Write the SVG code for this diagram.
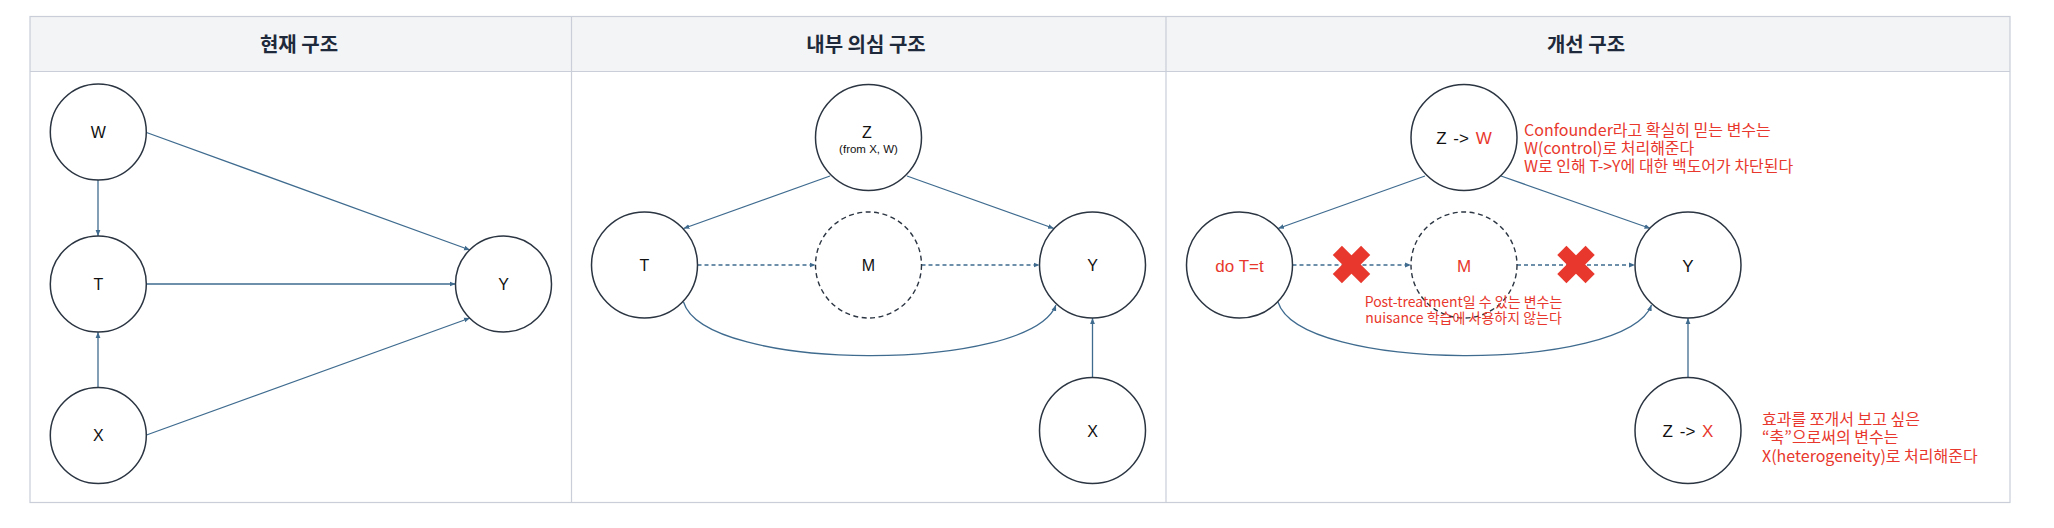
<svg xmlns="http://www.w3.org/2000/svg" width="2054" height="528" viewBox="0 0 2054 528">
  <style>
    .hdr { font-family: "Noto Sans CJK KR", "Noto Sans", sans-serif; font-weight: 700; font-size: 20px; fill: #1e2a3b; text-anchor: middle; }
    .node { fill: #ffffff; stroke: #2b3542; stroke-width: 1.5; }
    .dnode { fill: #ffffff; stroke: #2b3542; stroke-width: 1.4; stroke-dasharray: 5 3.5; }
    .lbl { font-family: "Liberation Sans", Arial, sans-serif; font-size: 16px; fill: #111111; text-anchor: middle; }
    .lbl3 { font-family: "Liberation Sans", Arial, sans-serif; font-size: 17px; fill: #111111; text-anchor: middle; }
    .ws { word-spacing: 2px; }
    .sub { font-family: "Liberation Sans", Arial, sans-serif; font-size: 11.5px; fill: #111111; text-anchor: middle; }
    .red { fill: #e8382d; }
    .note { font-family: "Noto Sans CJK KR", "Noto Sans", sans-serif; font-size: 16px; fill: #e8382d; }
    .note14 { font-family: "Noto Sans CJK KR", "Noto Sans", sans-serif; font-size: 14px; fill: #e8382d; text-anchor: middle; }
    .edge { fill: none; stroke: #3f6b8f; stroke-width: 1.3; marker-end: url(#ah); }
    .dedge { fill: none; stroke: #3f6b8f; stroke-width: 1.3; stroke-dasharray: 4 3; marker-end: url(#ah); }
    .grid { fill: none; stroke: #c9ced8; stroke-width: 1.2; }
  </style>
  <defs>
    <marker id="ah" viewBox="0 0 10 10" refX="10" refY="5" markerWidth="6" markerHeight="6" markerUnits="userSpaceOnUse" orient="auto">
      <path d="M0,1 L10,5 L0,9 z" fill="#3f6b8f"/>
    </marker>
    <g id="xmark">
      <rect x="-20" y="-6.5" width="40" height="13" transform="rotate(45)"/>
      <rect x="-20" y="-6.5" width="40" height="13" transform="rotate(-45)"/>
    </g>
  </defs>

  <rect x="0" y="0" width="2054" height="528" fill="#ffffff"/>

  <g id="table">
    <rect x="30" y="16.5" width="1980" height="55" fill="#f3f4f6"/>
    <rect class="grid" x="30" y="16.5" width="1980" height="486"/>
    <line class="grid" x1="30" y1="71.5" x2="2010" y2="71.5"/>
    <line class="grid" x1="571.5" y1="16.5" x2="571.5" y2="502.5"/>
    <line class="grid" x1="1166" y1="16.5" x2="1166" y2="502.5"/>
    <text class="hdr" x="299" y="51.5">현재 구조</text>
    <text class="hdr" x="866" y="51.5">내부 의심 구조</text>
    <text class="hdr" x="1586" y="51.5">개선 구조</text>
  </g>

  <g id="connectors">
    <!-- column 1 -->
    <line class="edge" x1="98" y1="180" x2="98" y2="236"/>
    <line class="edge" x1="98" y1="387.5" x2="98" y2="332"/>
    <line class="edge" x1="146.5" y1="132.5" x2="470" y2="250"/>
    <line class="edge" x1="146.5" y1="284" x2="455.5" y2="284"/>
    <line class="edge" x1="146.5" y1="435" x2="470" y2="318"/>
    <!-- column 2 -->
    <line class="edge" x1="830" y1="176" x2="683.5" y2="228.5"/>
    <line class="edge" x1="907" y1="176" x2="1054" y2="228.5"/>
    <line class="dedge" x1="697.5" y1="265" x2="815.5" y2="265"/>
    <line class="dedge" x1="921.5" y1="265" x2="1039.5" y2="265"/>
    <path class="edge" d="M683.5,302 C705,373 1030,373 1056,305"/>
    <line class="edge" x1="1092.5" y1="377.5" x2="1092.5" y2="318"/>
    <!-- column 3 -->
    <line class="edge" x1="1425" y1="176" x2="1278" y2="228.5"/>
    <line class="edge" x1="1501" y1="176" x2="1650.5" y2="228.5"/>
    <line class="dedge" x1="1292.5" y1="265" x2="1411" y2="265"/>
    <line class="dedge" x1="1517" y1="265" x2="1635" y2="265"/>
    <path class="edge" d="M1278,302 C1300,373 1626,373 1651.5,305"/>
    <line class="edge" x1="1688" y1="377.5" x2="1688" y2="318"/>
  </g>

  <!-- column 1 nodes -->
  <g id="c1-W"><circle class="node" cx="98.3" cy="132" r="48"/><text class="lbl" x="98.3" y="137.8">W</text></g>
  <g id="c1-T"><circle class="node" cx="98.3" cy="284" r="48"/><text class="lbl" x="98.3" y="289.8">T</text></g>
  <g id="c1-X"><circle class="node" cx="98.3" cy="435.5" r="48"/><text class="lbl" x="98.3" y="441.3">X</text></g>
  <g id="c1-Y"><circle class="node" cx="503.5" cy="284" r="48"/><text class="lbl" x="503.5" y="289.8">Y</text></g>

  <!-- column 2 nodes -->
  <g id="c2-Z"><circle class="node" cx="868.5" cy="137.5" r="53"/><text class="lbl" x="867" y="137.7">Z</text><text class="sub" x="868.5" y="153.3">(from X, W)</text></g>
  <g id="c2-T"><circle class="node" cx="644.5" cy="265" r="53"/><text class="lbl" x="644.5" y="271">T</text></g>
  <g id="c2-M"><circle class="dnode" cx="868.5" cy="265" r="53"/><text class="lbl" x="868.5" y="271">M</text></g>
  <g id="c2-Y"><circle class="node" cx="1092.5" cy="265" r="53"/><text class="lbl" x="1092.5" y="271">Y</text></g>
  <g id="c2-X"><circle class="node" cx="1092.5" cy="430.5" r="53"/><text class="lbl" x="1092.5" y="436.5">X</text></g>

  <!-- column 3 nodes -->
  <g id="c3-ZW"><circle class="node" cx="1464" cy="137.5" r="53"/><text class="lbl3 ws" x="1464" y="144">Z -&gt; <tspan class="red">W</tspan></text></g>
  <g id="c3-T"><circle class="node" cx="1239.5" cy="265" r="53"/><text class="lbl3" x="1239.5" y="271.5"><tspan class="red">do T=t</tspan></text></g>
  <g id="c3-M"><circle class="dnode" cx="1464" cy="265" r="53"/><text class="lbl3" x="1464" y="271.5"><tspan class="red">M</tspan></text></g>
  <g id="c3-Y"><circle class="node" cx="1688" cy="265" r="53"/><text class="lbl3" x="1688" y="271.5">Y</text></g>
  <g id="c3-ZX"><circle class="node" cx="1688" cy="430.5" r="53"/><text class="lbl3 ws" x="1688" y="437">Z -&gt; <tspan class="red">X</tspan></text></g>

  <g id="blocks" fill="#e8382d">
    <use href="#xmark" x="1351.5" y="264.5"/>
    <use href="#xmark" x="1576" y="264.5"/>
  </g>

  <g id="notes">
    <text class="note" x="1524" y="135.5">Confounder라고 확실히 믿는 변수는</text>
    <text class="note" x="1524" y="154">W(control)로 처리해준다</text>
    <text class="note" x="1524" y="172.3">W로 인해 T-&gt;Y에 대한 백도어가 차단된다</text>
    <text class="note14" x="1463.5" y="307">Post-treatment일 수 있는 변수는</text>
    <text class="note14" x="1463.5" y="322.5">nuisance 학습에 사용하지 않는다</text>
    <text class="note" x="1762" y="425">효과를 쪼개서 보고 싶은</text>
    <text class="note" x="1762" y="443.3">“축”으로써의 변수는</text>
    <text class="note" x="1762" y="461.6">X(heterogeneity)로 처리해준다</text>
  </g>
</svg>
